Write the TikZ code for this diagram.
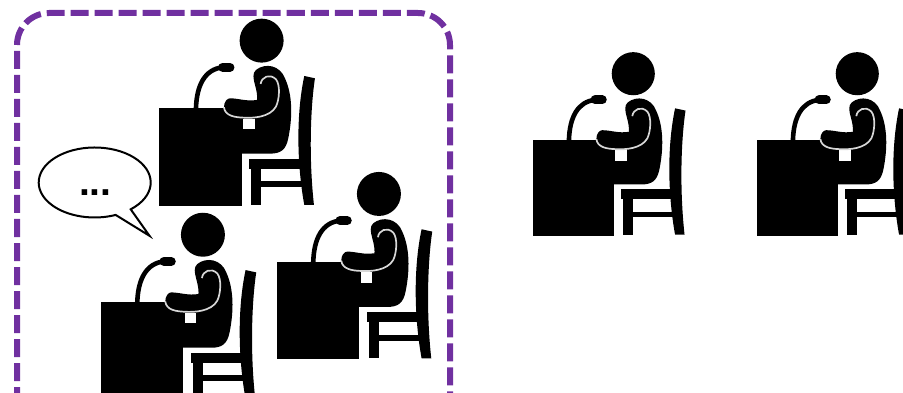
\documentclass[tikz,border=0pt]{standalone}
\usepackage{fontspec}
\setmainfont{Liberation Sans}
\definecolor{frame}{RGB}{112,48,160}
\definecolor{armline}{RGB}{215,215,215}
\tikzset{
  person/.pic={
    \begin{scope}[x=0.3333pt,y=-0.3333pt,shift={(-28,-295)}]
      % desk
      \fill[black] (28,295) rectangle (276,588);
      % microphone
      \draw[black,line width=4.6pt] (138,296) .. controls (140,225) and (165,178) .. (218,172);
      \draw[black,line width=9pt,line cap=round] (218,172) -- (240,172);
      % head
      \fill[black] (335,92) circle (66);
      % torso
      \fill[black] (318,180) .. controls (345,158) and (390,165) .. (405,205)
        .. controls (428,255) and (428,320) .. (415,385)
        .. controls (408,420) and (392,431) .. (360,431)
        -- (270,431) -- (270,322) -- (320,280)
        .. controls (330,240) and (296,200) .. (318,180) -- cycle;
      % forearm
      \fill[black] (240,265) .. controls (265,265) and (290,275) .. (320,270)
        -- (385,280) .. controls (375,315) and (330,322) .. (290,322)
        .. controls (260,322) and (225,318) .. (222,292)
        .. controls (222,275) and (232,265) .. (240,265) -- cycle;
      % shirt notch
      \fill[white] (280,326) rectangle (315,358);
      % arm outline
      \draw[armline,line width=1.7pt] (332,222) .. controls (335,200) and (360,190) .. (378,208)
        .. controls (392,225) and (388,270) .. (378,290)
        .. controls (360,322) and (310,325) .. (280,323)
        .. controls (255,322) and (225,318) .. (222,292);
      % chair
      \fill[black] (463,198) -- (495,205) .. controls (482,290) and (476,440) .. (492,585)
        -- (463,585) .. controls (442,470) and (437,320) .. (463,198) -- cycle;
      \fill[black] (298,446) rectangle (465,476);
      \fill[black] (304,476) rectangle (334,585);
      \fill[black] (334,514) rectangle (465,532);
    \end{scope}
  },
  bubble/.style={draw=black,fill=white,line width=2pt,line join=miter},
  border/.style={draw=frame,line width=6pt,rounded corners=32pt,dash pattern=on 18pt off 6pt}
}
\begin{document}
\begin{tikzpicture}[x=1pt,y=-1pt]
  \useasboundingbox (0,0) rectangle (903,393);
  \clip (0,0) rectangle (903,393);
  \draw[border] (17,405) -- (17,13) -- (450,13) -- (450,405);
  \pic at (159.3,108.3) {person};
  \pic at (276.6,261.6) {person};
  \pic at (100.6,302.4) {person};
  \pic[scale=0.98] at (533,140) {person};
  \pic[scale=0.98] at (757,140) {person};
  \draw[bubble] (130.7,209.3) arc[start angle=50,end angle=-292,x radius=56,y radius=35]
     -- (149.5,235.8) -- cycle;
  \node[inner sep=0pt,anchor=base,font=\bfseries\fontsize{39}{39}\selectfont] (dots) at (95.3,195.5) {...};
\end{tikzpicture}
\end{document}
